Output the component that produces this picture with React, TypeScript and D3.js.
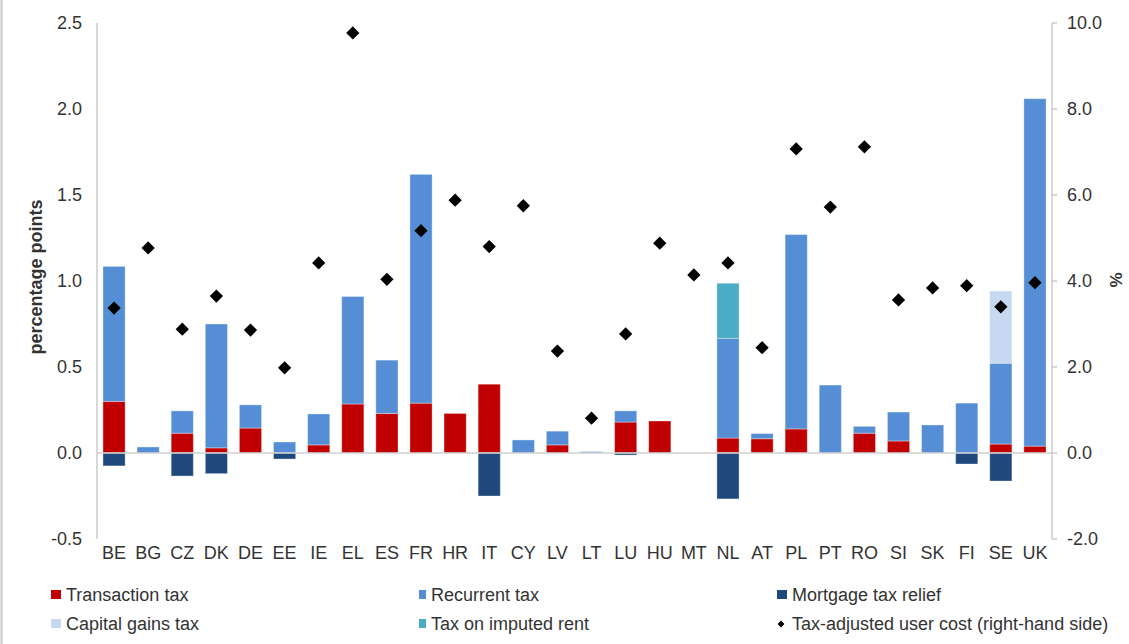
import React from "react";
import * as d3 from "d3";

const countries = ["BE","BG","CZ","DK","DE","EE","IE","EL","ES","FR","HR","IT","CY","LV","LT","LU","HU","MT","NL","AT","PL","PT","RO","SI","SK","FI","SE","UK"];
const transactionTax = [0.30,0,0.115,0.03,0.145,0,0.047,0.285,0.23,0.29,0.23,0.40,0,0.047,0,0.18,0.186,0,0.087,0.083,0.14,0,0.115,0.07,0,0,0.052,0.04];
const recurrentTax =   [0.785,0.035,0.13,0.72,0.135,0.064,0.18,0.625,0.31,1.33,0,0,0.076,0.08,0.008,0.065,0,0,0.58,0.03,1.13,0.395,0.04,0.168,0.163,0.29,0.47,2.02];
const mortgageRelief = [-0.075,0,-0.134,-0.12,0,-0.035,0,0,0,0,0,-0.25,0,0,0,-0.012,0,0,-0.267,0,0,0,0,0,0,-0.064,-0.163,0];
const capitalGains =   [0,0,0,0,0,0,0,0,0,0,0,0,0,0,0,0,0,0,0,0,0,0,0,0,0,0,0.42,0];
const imputedRent =    [0,0,0,0,0,0,0,0,0,0,0,0,0,0,0,0,0,0,0.32,0,0,0,0,0,0,0,0,0];
const userCost = [3.37,4.77,2.88,3.65,2.86,1.98,4.42,9.77,4.04,5.17,5.88,4.8,5.75,2.37,0.81,2.77,4.88,4.14,4.42,2.45,7.07,5.72,7.12,3.56,3.84,3.89,3.4,3.96];
const leftTicks = [-0.5,0,0.5,1,1.5,2,2.5];
const rightTicks = [-2,0,2,4,6,8,10];

const seriesNames = ["Transaction tax","Recurrent tax","Mortgage tax relief","Capital gains tax","Tax on imputed rent","Tax-adjusted user cost (right-hand side)"];
const colors = {
  transaction: "#C00000",
  recurrent: "#558ED5",
  mortgage: "#1F497D",
  capital: "#C6D9F1",
  imputed: "#4BACC6",
};

const fmt = (v: number) => d3.format(".1f")(v).replace("\u2212", "-");

export default function App() {
  const W = 1129, H = 644;
  const left = 97, right = 1052, top = 23, bottom = 539;
  const x = d3.scaleBand<string>().domain(countries).range([left, right]).paddingInner(0.35).paddingOuter(0.175);
  const y = d3.scaleLinear().domain([-0.5, 2.5]).range([bottom, top]);
  const y2 = d3.scaleLinear().domain([-2, 10]).range([bottom, top]);
  const font = "'Liberation Sans', Arial, sans-serif";
  const textColor = "#333";

  const posSeries = [
    { vals: transactionTax, color: colors.transaction },
    { vals: recurrentTax, color: colors.recurrent },
    { vals: capitalGains, color: colors.capital },
    { vals: imputedRent, color: colors.imputed },
  ];

  const rects: JSX.Element[] = [];
  countries.forEach((c, i) => {
    let base = 0;
    posSeries.forEach((s, si) => {
      const v = s.vals[i];
      if (v > 0) {
        rects.push(
          <rect key={`p${si}-${i}`} x={x(c)!} width={x.bandwidth()} y={y(base + v)} height={y(base) - y(base + v)}
            fill={s.color} stroke="#ffffff" strokeOpacity={0.35} strokeWidth={1} />
        );
        base += v;
      }
    });
    const m = mortgageRelief[i];
    if (m < 0) {
      rects.push(
        <rect key={`m-${i}`} x={x(c)!} width={x.bandwidth()} y={y(0)} height={y(m) - y(0)}
          fill={colors.mortgage} stroke="#ffffff" strokeOpacity={0.35} strokeWidth={1} />
      );
    }
  });

  const diamond = d3.symbol().type(d3.symbolSquare).size(88)();
  const legendDiamond = d3.symbol().type(d3.symbolSquare).size(24)();

  const legendItems = [
    { name: seriesNames[0], color: colors.transaction, x: 51, y: 595, w: 10 },
    { name: seriesNames[1], color: colors.recurrent, x: 419, y: 595, w: 7 },
    { name: seriesNames[2], color: colors.mortgage, x: 777, y: 595, w: 10 },
    { name: seriesNames[3], color: colors.capital, x: 51, y: 624, w: 10 },
    { name: seriesNames[4], color: colors.imputed, x: 419, y: 624, w: 7 },
  ];

  return (
    <div style={{ position: "absolute", left: 0, top: 0 }}>
      <svg width={W} height={H} style={{ display: "block", background: "#fff" }} fontFamily={font}>
        <line x1={1.5} x2={1.5} y1={0} y2={H} stroke="#c8c8c8" strokeWidth={2} />
        <line x1={left} x2={left} y1={top} y2={bottom} stroke="#BFBFBF" strokeWidth={1.2} />
        <line x1={right} x2={right} y1={top} y2={bottom} stroke="#BFBFBF" strokeWidth={1.2} />
        {rightTicks.map((t) => (
          <line key={`rt${t}`} x1={right} x2={right + 5} y1={y2(t)} y2={y2(t)} stroke="#BFBFBF" strokeWidth={1.2} />
        ))}
        {rects}
        <line x1={left} x2={right} y1={y(0)} y2={y(0)} stroke="#D0D0D0" strokeWidth={1.5} />
        {countries.map((c, i) => (
          <path key={`d${i}`} d={diamond!} transform={`translate(${x(c)! + x.bandwidth() / 2},${y2(userCost[i])}) rotate(45)`} fill="#000" />
        ))}
        {leftTicks.map((t) => (
          <text key={`lt${t}`} x={82} y={y(t)} dy="0.35em" textAnchor="end" fontSize={18} fill={textColor}>{fmt(t)}</text>
        ))}
        {rightTicks.map((t) => (
          <text key={`rl${t}`} x={1067} y={y2(t)} dy="0.35em" textAnchor="start" fontSize={18} fill={textColor}>{fmt(t)}</text>
        ))}
        {countries.map((c) => (
          <text key={`c${c}`} x={x(c)! + x.bandwidth() / 2} y={553} dy="0.35em" textAnchor="middle" fontSize={18} fill={textColor}>{c}</text>
        ))}
        <text transform={`translate(36,277) rotate(-90)`} dy="0.35em" textAnchor="middle" fontSize={18} fontWeight="bold" fill={textColor}>percentage points</text>
        <text transform={`translate(1116,280) rotate(-90)`} dy="0.35em" textAnchor="middle" fontSize={17} fontWeight="bold" fill={textColor}>%</text>
        {legendItems.map((l) => (
          <g key={l.name}>
            <rect x={l.x} y={l.y - 5} width={l.w} height={9} fill={l.color} />
            <text x={l.x + l.w + 5} y={l.y} dy="0.35em" fontSize={18} fill={textColor}>{l.name}</text>
          </g>
        ))}
        <path d={legendDiamond!} transform={`translate(781,624) rotate(45)`} fill="#000" />
        <text x={792} y={624} dy="0.35em" fontSize={18} fill={textColor}>{seriesNames[5]}</text>
      </svg>
    </div>
  );
}
